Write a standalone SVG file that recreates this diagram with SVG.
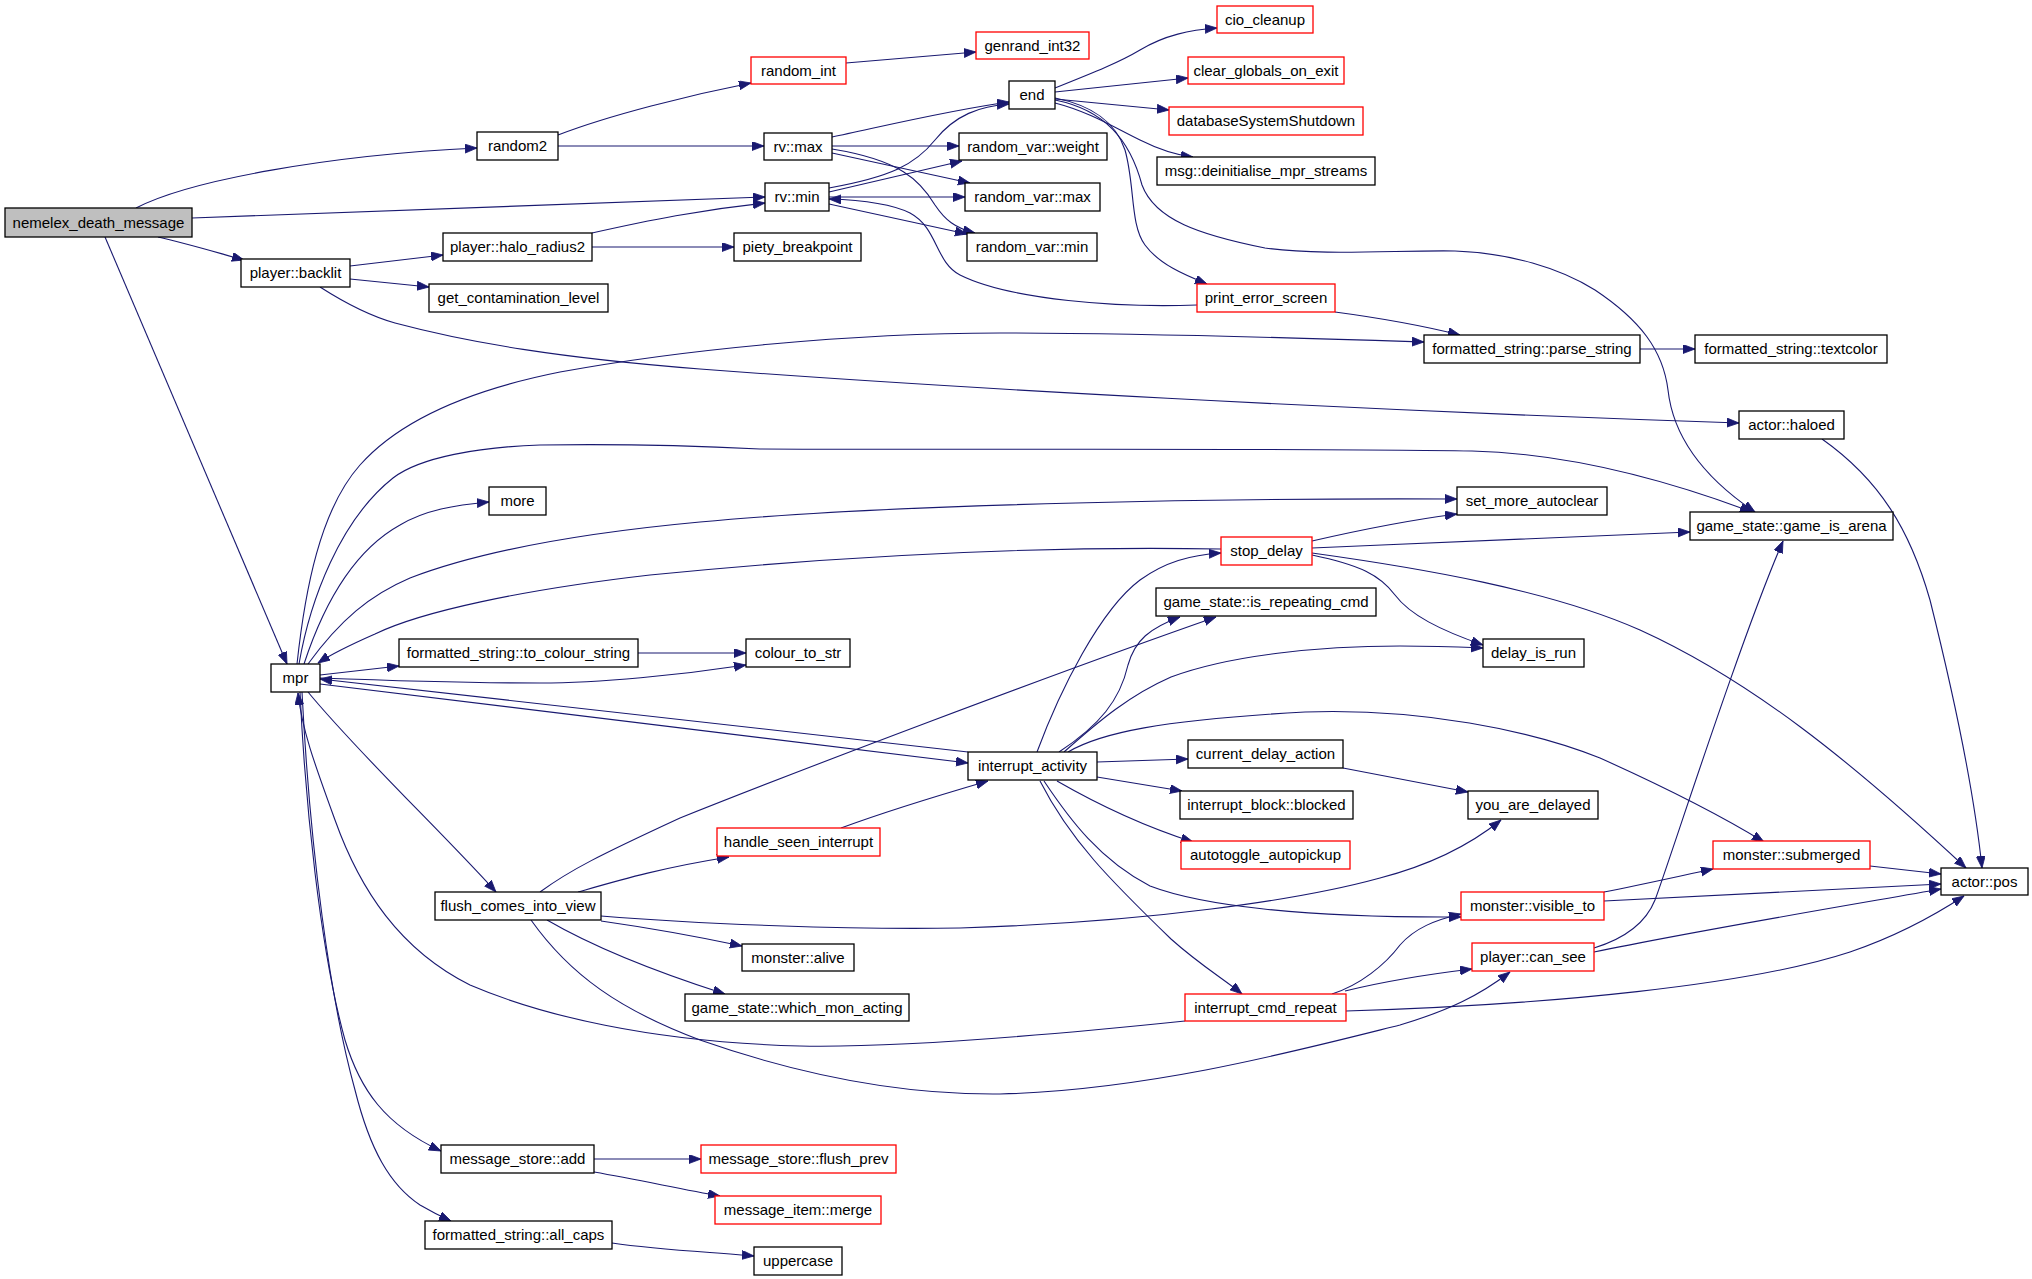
<svg xmlns="http://www.w3.org/2000/svg" width="2032" height="1279" viewBox="0 0 2032 1279">
<style>
.n rect{fill:#fff;stroke:#000;stroke-width:1.3}
.n.r rect{stroke:#f00}
.n.g rect{fill:#bfbfbf}
.n text{font-family:"Liberation Sans",Arial,sans-serif;font-size:15px;text-anchor:middle;fill:#000}
#edges path{fill:none;stroke:#191970;stroke-width:1.1;marker-end:url(#ah)}
</style>
<defs>
<marker id="ah" markerUnits="userSpaceOnUse" markerWidth="13" markerHeight="10" refX="12" refY="4.5" orient="auto">
<path d="M0,0 L12,4.5 L0,9 z" fill="#191970" stroke="#191970" stroke-width="0.8"/>
</marker>
</defs>
<rect width="2032" height="1279" fill="#fff"/>
<g id="edges">
<path d="M136,208 C190,180 330,155 477,148"/>
<path d="M192,218 L765,197"/>
<path d="M158,237 C185,243 215,252 244,260"/>
<path d="M105,237 L287,664"/>
<path d="M558,135 C610,115 690,95 751,83"/>
<path d="M558,146 L764,146"/>
<path d="M846,63 L976,52"/>
<path d="M832,137 C880,127 950,110 1009,102"/>
<path d="M832,146 L959,146"/>
<path d="M832,153 L970,183"/>
<path d="M832,149 C900,160 920,180 935,205 C945,220 955,228 975,233"/>
<path d="M829,188 C890,177 915,165 935,140 C955,115 980,106 1009,104"/>
<path d="M829,192 L962,161"/>
<path d="M829,197 L965,197"/>
<path d="M829,204 L967,234"/>
<path d="M1197,305 C1120,308 1010,300 960,275 C935,262 938,228 910,213 C890,203 860,200 829,199"/>
<path d="M592,233 C650,220 700,210 765,203"/>
<path d="M592,247 L734,247"/>
<path d="M350,266 L443,255"/>
<path d="M350,279 L429,287"/>
<path d="M320,287 C345,303 370,316 395,323 C470,343 560,358 700,369 C950,388 1350,410 1739,423"/>
<path d="M1055,88 C1095,72 1120,62 1140,50 C1165,35 1190,30 1217,28"/>
<path d="M1055,92 L1188,78"/>
<path d="M1055,99 L1169,110"/>
<path d="M1055,103 C1090,112 1115,128 1140,140 C1160,150 1175,155 1193,157"/>
<path d="M1055,98 C1090,105 1115,120 1125,150 C1135,185 1130,225 1145,245 C1160,265 1185,275 1207,284"/>
<path d="M1055,100 C1105,110 1130,140 1142,185 C1155,220 1200,235 1265,248 C1320,256 1400,250 1455,251 C1510,253 1560,268 1595,290 C1640,320 1663,350 1668,390 C1673,435 1700,475 1755,512"/>
<path d="M1335,312 C1380,318 1420,325 1460,335"/>
<path d="M1640,349 L1695,349"/>
<path d="M297,664 C305,590 320,510 360,465 C400,420 470,390 560,372 C680,350 850,333 1000,333 C1150,333 1300,338 1424,342"/>
<path d="M299,664 C310,600 340,520 393,478 C420,457 480,447 540,445 C600,444 680,445 760,449 C1000,450 1300,448 1472,451 C1550,453 1640,470 1752,512"/>
<path d="M304,664 C325,600 355,550 400,525 C425,510 455,505 489,502"/>
<path d="M308,664 C340,620 370,595 410,578 C470,555 560,535 700,522 C900,503 1250,498 1457,499"/>
<path d="M1221,549 C1050,546 850,555 650,575 C520,590 420,612 375,634 C350,645 330,655 318,663"/>
<path d="M320,675 L399,666"/>
<path d="M320,678 C400,681 500,683 540,683 C600,683 680,675 746,665"/>
<path d="M968,752 L320,679"/>
<path d="M320,684 L968,763"/>
<path d="M638,653 L746,653"/>
<path d="M308,692 C360,755 440,830 496,892"/>
<path d="M300,692 C305,800 320,950 345,1040 C360,1090 385,1125 441,1151"/>
<path d="M302,692 C310,850 330,1000 355,1090 C370,1150 390,1185 420,1205 C432,1212 442,1217 451,1221"/>
<path d="M1185,1021 C1050,1035 900,1048 800,1046 C650,1042 540,1015 470,985 C400,950 360,890 335,820 C315,765 302,730 298,693"/>
<path d="M1312,541 C1360,530 1410,520 1457,514"/>
<path d="M1312,548 C1450,542 1600,535 1690,532"/>
<path d="M1312,555 C1360,565 1380,575 1395,595 C1410,615 1440,630 1483,645"/>
<path d="M1312,553 C1420,568 1550,590 1640,630 C1750,680 1850,760 1966,868"/>
<path d="M1037,752 C1060,690 1100,610 1140,580 C1165,562 1190,555 1221,553"/>
<path d="M1064,752 C1100,720 1130,695 1171,677 C1230,655 1320,646 1400,646 C1440,646 1460,647 1483,648"/>
<path d="M1059,752 C1100,725 1120,700 1128,665 C1135,640 1150,628 1180,617"/>
<path d="M540,892 C570,870 600,855 680,818 C800,770 1050,675 1216,617"/>
<path d="M1097,762 L1188,759"/>
<path d="M1097,777 L1182,791"/>
<path d="M1057,781 C1090,800 1140,825 1193,842"/>
<path d="M1068,752 C1100,733 1160,720 1305,712 C1420,708 1530,730 1600,758 C1660,785 1720,815 1764,842"/>
<path d="M1044,781 C1070,820 1100,860 1150,886 C1200,905 1300,918 1461,917"/>
<path d="M1040,781 C1070,840 1110,880 1171,939 C1200,965 1225,980 1242,994"/>
<path d="M841,828 C890,810 940,795 988,781"/>
<path d="M1343,768 C1380,775 1420,783 1468,792"/>
<path d="M578,892 C620,880 660,868 729,857"/>
<path d="M601,916 C700,924 850,930 960,928 C1150,922 1300,900 1380,878 C1430,865 1470,845 1501,820"/>
<path d="M601,921 C650,928 690,935 742,946"/>
<path d="M547,920 C590,945 650,970 725,994"/>
<path d="M531,920 C570,975 620,1010 700,1040 C800,1075 900,1095 1000,1094 C1150,1090 1300,1050 1400,1025 C1450,1010 1480,995 1510,972"/>
<path d="M1332,994 C1360,985 1385,965 1400,945 C1415,928 1435,920 1461,914"/>
<path d="M1345,991 C1390,980 1430,974 1472,969"/>
<path d="M1346,1011 C1550,1005 1750,985 1850,952 C1900,935 1935,915 1964,896"/>
<path d="M1594,948 C1620,940 1645,925 1655,900 C1670,860 1740,640 1783,541"/>
<path d="M1594,952 C1700,930 1850,905 1941,889"/>
<path d="M1604,892 C1640,885 1680,876 1713,869"/>
<path d="M1604,901 L1941,884"/>
<path d="M1870,866 L1941,874"/>
<path d="M1822,439 C1880,480 1910,530 1930,600 C1955,700 1975,800 1982,868"/>
<path d="M594,1159 L701,1159"/>
<path d="M594,1172 C640,1180 680,1189 720,1196"/>
<path d="M612,1243 C660,1250 710,1252 754,1256"/>
</g>
<g id="nemelex_death_message" class="n g"><rect x="5" y="208" width="187" height="29"/><text x="98.5" y="228">nemelex_death_message</text></g>
<g id="random2" class="n"><rect x="477" y="132" width="81" height="28"/><text x="517.5" y="151">random2</text></g>
<g id="random_int" class="n r"><rect x="751" y="57" width="95" height="27"/><text x="798.5" y="75.5">random_int</text></g>
<g id="genrand_int32" class="n r"><rect x="976" y="32" width="113" height="27"/><text x="1032.5" y="50.5">genrand_int32</text></g>
<g id="rv_max" class="n"><rect x="764" y="133" width="68" height="27"/><text x="798" y="151.5">rv::max</text></g>
<g id="rv_min" class="n"><rect x="765" y="183" width="64" height="28"/><text x="797" y="202">rv::min</text></g>
<g id="end" class="n"><rect x="1009" y="81" width="46" height="28"/><text x="1032" y="100">end</text></g>
<g id="cio_cleanup" class="n r"><rect x="1217" y="6" width="96" height="27"/><text x="1265" y="24.5">cio_cleanup</text></g>
<g id="clear_globals_on_exit" class="n r"><rect x="1188" y="57" width="156" height="27"/><text x="1266" y="75.5">clear_globals_on_exit</text></g>
<g id="databaseSystemShutdown" class="n r"><rect x="1169" y="107" width="194" height="28"/><text x="1266" y="126">databaseSystemShutdown</text></g>
<g id="msg_deinitialise_mpr_streams" class="n"><rect x="1157" y="157" width="218" height="28"/><text x="1266" y="176">msg::deinitialise_mpr_streams</text></g>
<g id="random_var_weight" class="n"><rect x="959" y="133" width="148" height="27"/><text x="1033" y="151.5">random_var::weight</text></g>
<g id="random_var_max" class="n"><rect x="965" y="183" width="135" height="28"/><text x="1032.5" y="202">random_var::max</text></g>
<g id="random_var_min" class="n"><rect x="967" y="233" width="130" height="28"/><text x="1032" y="252">random_var::min</text></g>
<g id="piety_breakpoint" class="n"><rect x="734" y="233" width="127" height="28"/><text x="797.5" y="252">piety_breakpoint</text></g>
<g id="print_error_screen" class="n r"><rect x="1197" y="284" width="138" height="28"/><text x="1266" y="303">print_error_screen</text></g>
<g id="player_halo_radius2" class="n"><rect x="443" y="233" width="149" height="28"/><text x="517.5" y="252">player::halo_radius2</text></g>
<g id="player_backlit" class="n"><rect x="241" y="259" width="109" height="28"/><text x="295.5" y="278">player::backlit</text></g>
<g id="get_contamination_level" class="n"><rect x="429" y="284" width="179" height="28"/><text x="518.5" y="303">get_contamination_level</text></g>
<g id="formatted_string_parse_string" class="n"><rect x="1424" y="335" width="216" height="28"/><text x="1532" y="354">formatted_string::parse_string</text></g>
<g id="formatted_string_textcolor" class="n"><rect x="1695" y="335" width="192" height="28"/><text x="1791" y="354">formatted_string::textcolor</text></g>
<g id="actor_haloed" class="n"><rect x="1739" y="411" width="105" height="28"/><text x="1791.5" y="430">actor::haloed</text></g>
<g id="more" class="n"><rect x="489" y="487" width="57" height="28"/><text x="517.5" y="506">more</text></g>
<g id="set_more_autoclear" class="n"><rect x="1457" y="487" width="150" height="28"/><text x="1532" y="506">set_more_autoclear</text></g>
<g id="game_state_game_is_arena" class="n"><rect x="1690" y="512" width="203" height="28"/><text x="1791.5" y="531">game_state::game_is_arena</text></g>
<g id="stop_delay" class="n r"><rect x="1221" y="537" width="91" height="28"/><text x="1266.5" y="556">stop_delay</text></g>
<g id="game_state_is_repeating_cmd" class="n"><rect x="1156" y="588" width="220" height="28"/><text x="1266" y="607">game_state::is_repeating_cmd</text></g>
<g id="mpr" class="n"><rect x="271" y="664" width="49" height="28"/><text x="295.5" y="683">mpr</text></g>
<g id="formatted_string_to_colour_string" class="n"><rect x="399" y="639" width="239" height="28"/><text x="518.5" y="658">formatted_string::to_colour_string</text></g>
<g id="colour_to_str" class="n"><rect x="746" y="639" width="104" height="28"/><text x="798" y="658">colour_to_str</text></g>
<g id="delay_is_run" class="n"><rect x="1483" y="639" width="101" height="28"/><text x="1533.5" y="658">delay_is_run</text></g>
<g id="interrupt_activity" class="n"><rect x="968" y="752" width="129" height="28"/><text x="1032.5" y="771">interrupt_activity</text></g>
<g id="current_delay_action" class="n"><rect x="1188" y="740" width="155" height="28"/><text x="1265.5" y="759">current_delay_action</text></g>
<g id="interrupt_block_blocked" class="n"><rect x="1180" y="791" width="173" height="28"/><text x="1266.5" y="810">interrupt_block::blocked</text></g>
<g id="you_are_delayed" class="n"><rect x="1468" y="791" width="130" height="28"/><text x="1533" y="810">you_are_delayed</text></g>
<g id="handle_seen_interrupt" class="n r"><rect x="717" y="828" width="163" height="28"/><text x="798.5" y="847">handle_seen_interrupt</text></g>
<g id="autotoggle_autopickup" class="n r"><rect x="1181" y="841" width="169" height="28"/><text x="1265.5" y="860">autotoggle_autopickup</text></g>
<g id="monster_submerged" class="n r"><rect x="1713" y="841" width="157" height="28"/><text x="1791.5" y="860">monster::submerged</text></g>
<g id="actor_pos" class="n"><rect x="1941" y="868" width="87" height="27"/><text x="1984.5" y="886.5">actor::pos</text></g>
<g id="flush_comes_into_view" class="n"><rect x="435" y="892" width="166" height="28"/><text x="518" y="911">flush_comes_into_view</text></g>
<g id="monster_visible_to" class="n r"><rect x="1461" y="892" width="143" height="28"/><text x="1532.5" y="911">monster::visible_to</text></g>
<g id="player_can_see" class="n r"><rect x="1472" y="943" width="122" height="28"/><text x="1533" y="962">player::can_see</text></g>
<g id="monster_alive" class="n"><rect x="742" y="944" width="112" height="27"/><text x="798" y="962.5">monster::alive</text></g>
<g id="game_state_which_mon_acting" class="n"><rect x="685" y="994" width="224" height="27"/><text x="797" y="1012.5">game_state::which_mon_acting</text></g>
<g id="interrupt_cmd_repeat" class="n r"><rect x="1185" y="994" width="161" height="27"/><text x="1265.5" y="1012.5">interrupt_cmd_repeat</text></g>
<g id="message_store_add" class="n"><rect x="441" y="1145" width="153" height="28"/><text x="517.5" y="1164">message_store::add</text></g>
<g id="message_store_flush_prev" class="n r"><rect x="701" y="1145" width="195" height="28"/><text x="798.5" y="1164">message_store::flush_prev</text></g>
<g id="message_item_merge" class="n r"><rect x="715" y="1196" width="166" height="28"/><text x="798" y="1215">message_item::merge</text></g>
<g id="formatted_string_all_caps" class="n"><rect x="425" y="1221" width="187" height="28"/><text x="518.5" y="1240">formatted_string::all_caps</text></g>
<g id="uppercase" class="n"><rect x="754" y="1247" width="88" height="28"/><text x="798" y="1266">uppercase</text></g>
</svg>
